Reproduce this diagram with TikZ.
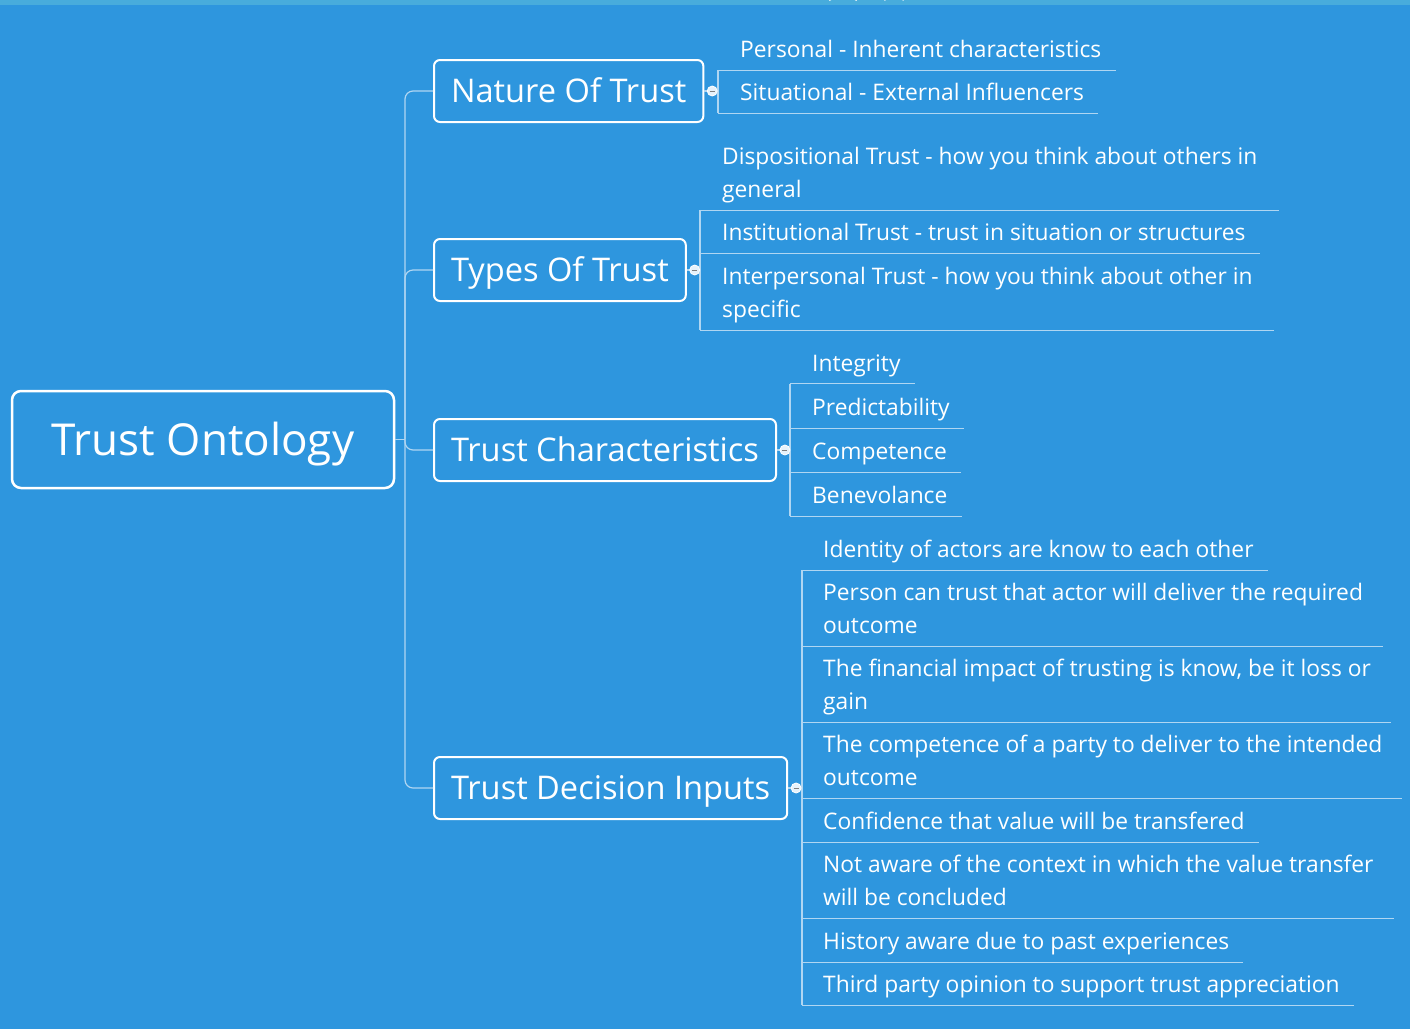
\documentclass[tikz,border=0pt]{standalone}
\usepackage{fontspec}
\setmainfont{Open Sans}
\usetikzlibrary{positioning}
\definecolor{mapblue}{RGB}{46,150,222}
\definecolor{stripblue}{RGB}{72,172,220}
\definecolor{wirecol}{RGB}{176,214,242}
\tikzset{
  rootbox/.style={draw=white, line width=2.5pt, rounded corners=9pt, text=white,
    font=\fontsize{44}{52}\selectfont, minimum width=382pt, minimum height=97pt,
    text height=31.4pt, text depth=0pt},
  topicbox/.style={draw=white, line width=2pt, rounded corners=6pt, text=white,
    font=\fontsize{32.6}{38}\selectfont, minimum height=62pt, inner xsep=17pt, anchor=west,
    text height=23.3pt, text depth=0pt},
  leaf/.style={text=white, font=\fontsize{22.8}{32.5}\selectfont, inner xsep=0pt,
    inner ysep=0pt, anchor=west, align=left, minimum height=42pt,
    text height=17.3pt, text depth=0pt},
  leaftwo/.style={text=white, font=\fontsize{22.8}{32.5}\selectfont, inner xsep=0pt,
    inner ysep=0pt, anchor=west, align=left, minimum height=75pt, text depth=0pt},
  link/.style={draw=wirecol, line width=1.2pt},
  knob/.style={circle, fill=white!88!mapblue, draw=white, line width=0.8pt, inner sep=0pt,
    minimum size=10pt, path picture={\draw[gray, line width=0.9pt]
      ([xshift=-2.5pt]path picture bounding box.center) --
      ([xshift=2.5pt]path picture bounding box.center);}}
}
\begin{document}
\begin{tikzpicture}[x=1pt,y=-1pt]
\fill[mapblue] (0,0) rectangle (1410,1029);
\useasboundingbox (0,0) rectangle (1410,1029);
\fill[stripblue] (0,0) rectangle (1410,5);
\draw[white, line width=2.5pt] (829,0) arc (180:360:14 and 2.5);
\draw[white, line width=2.5pt] (884,0) arc (180:360:10 and 2.5);

% main topics
\node[rootbox] (root) at (203,439.5) {Trust Ontology};
\node[topicbox] (nature) at (433,91) {Nature Of Trust};
\node[topicbox] (types) at (433,270) {Types Of Trust};
\node[topicbox] (chars) at (433,450) {Trust Characteristics};
\node[topicbox] (inputs) at (433,788) {Trust Decision Inputs};

\coordinate (trunk) at (405,439.5);
\draw[link] (root.east) -- (trunk);
\draw[link, rounded corners=8pt] (trunk) |- (nature.west);
\draw[link, rounded corners=8pt] (trunk) |- (types.west);
\draw[link, rounded corners=8pt] (trunk) |- (chars.west);
\draw[link, rounded corners=8pt] (trunk) |- (inputs.west);

% nature of trust
\coordinate (nb) at (718,91);
\node[leaf] (n1) at (740,49) {Personal - Inherent characteristics};
\node[leaf] (n2) at (740,92) {Situational - External Influencers};
\draw[link] (nb |- n1.south) -- ([xshift=14pt]n1.south east);
\draw[link] (nb |- n2.south) -- ([xshift=14pt]n2.south east);
\draw[link] (nb |- n1.south) -- (nb |- n2.south);
\draw[link] (nature.east) -- (nb |- nature.east);
\node[knob, right=2.5pt of nature] (nk) {};

% types of trust
\coordinate (tb) at (700,270);
\node[leaftwo] (t1) at (722,172.5) {Dispositional Trust - how you think about others in\\general};
\node[leaf] (t2) at (722,232) {Institutional Trust - trust in situation or structures};
\node[leaftwo] (t3) at (722,292.5) {Interpersonal Trust - how you think about other in\\specific};
\draw[link] (tb |- t1.south) -- ([xshift=21pt]t1.south east);
\draw[link] (tb |- t2.south) -- ([xshift=14pt]t2.south east);
\draw[link] (tb |- t3.south) -- ([xshift=21pt]t3.south east);
\draw[link] (tb |- t1.south) -- (tb |- t3.south);
\draw[link] (types.east) -- (tb |- types.east);
\node[knob, right=2.5pt of types] (tk) {};

% trust characteristics
\coordinate (cb) at (790,450);
\node[leaf] (c1) at (812,362.5) {Integrity};
\node[leaf] (c2) at (812,407) {Predictability};
\node[leaf] (c3) at (812,451) {Competence};
\node[leaf] (c4) at (812,495) {Benevolance};
\draw[link] (cb |- c1.south) -- ([xshift=14pt]c1.south east);
\draw[link] (cb |- c2.south) -- ([xshift=14pt]c2.south east);
\draw[link] (cb |- c3.south) -- ([xshift=14pt]c3.south east);
\draw[link] (cb |- c4.south) -- ([xshift=14pt]c4.south east);
\draw[link] (cb |- c1.south) -- (cb |- c4.south);
\draw[link] (chars.east) -- (cb |- chars.east);
\node[knob, right=2.5pt of chars] (ck) {};

% trust decision inputs
\coordinate (db) at (802,788);
\node[leaf] (d1) at (823,549) {Identity of actors are know to each other};
\node[leaftwo] (d2) at (823,608.5) {Person can trust that actor will deliver the required\\outcome};
\node[leaftwo] (d3) at (823,684.5) {The financial impact of trusting is know, be it loss or\\gain};
\node[leaftwo] (d4) at (823,760.5) {The competence of a party to deliver to the intended\\outcome};
\node[leaf] (d5) at (823,821) {Confidence that value will be transfered};
\node[leaftwo] (d6) at (823,880.5) {Not aware of the context in which the value transfer\\will be concluded};
\node[leaf] (d7) at (823,941) {History aware due to past experiences};
\node[leaf] (d8) at (823,984) {Third party opinion to support trust appreciation};
\draw[link] (db |- d1.south) -- ([xshift=14pt]d1.south east);
\draw[link] (db |- d2.south) -- ([xshift=20pt]d2.south east);
\draw[link] (db |- d3.south) -- ([xshift=20pt]d3.south east);
\draw[link] (db |- d4.south) -- ([xshift=20pt]d4.south east);
\draw[link] (db |- d5.south) -- ([xshift=14pt]d5.south east);
\draw[link] (db |- d6.south) -- ([xshift=20pt]d6.south east);
\draw[link] (db |- d7.south) -- ([xshift=14pt]d7.south east);
\draw[link] (db |- d8.south) -- ([xshift=14pt]d8.south east);
\draw[link] (db |- d1.south) -- (db |- d8.south);
\draw[link] (inputs.east) -- (db |- inputs.east);
\node[knob, right=2.5pt of inputs] (dk) {};
\end{tikzpicture}
\end{document}
